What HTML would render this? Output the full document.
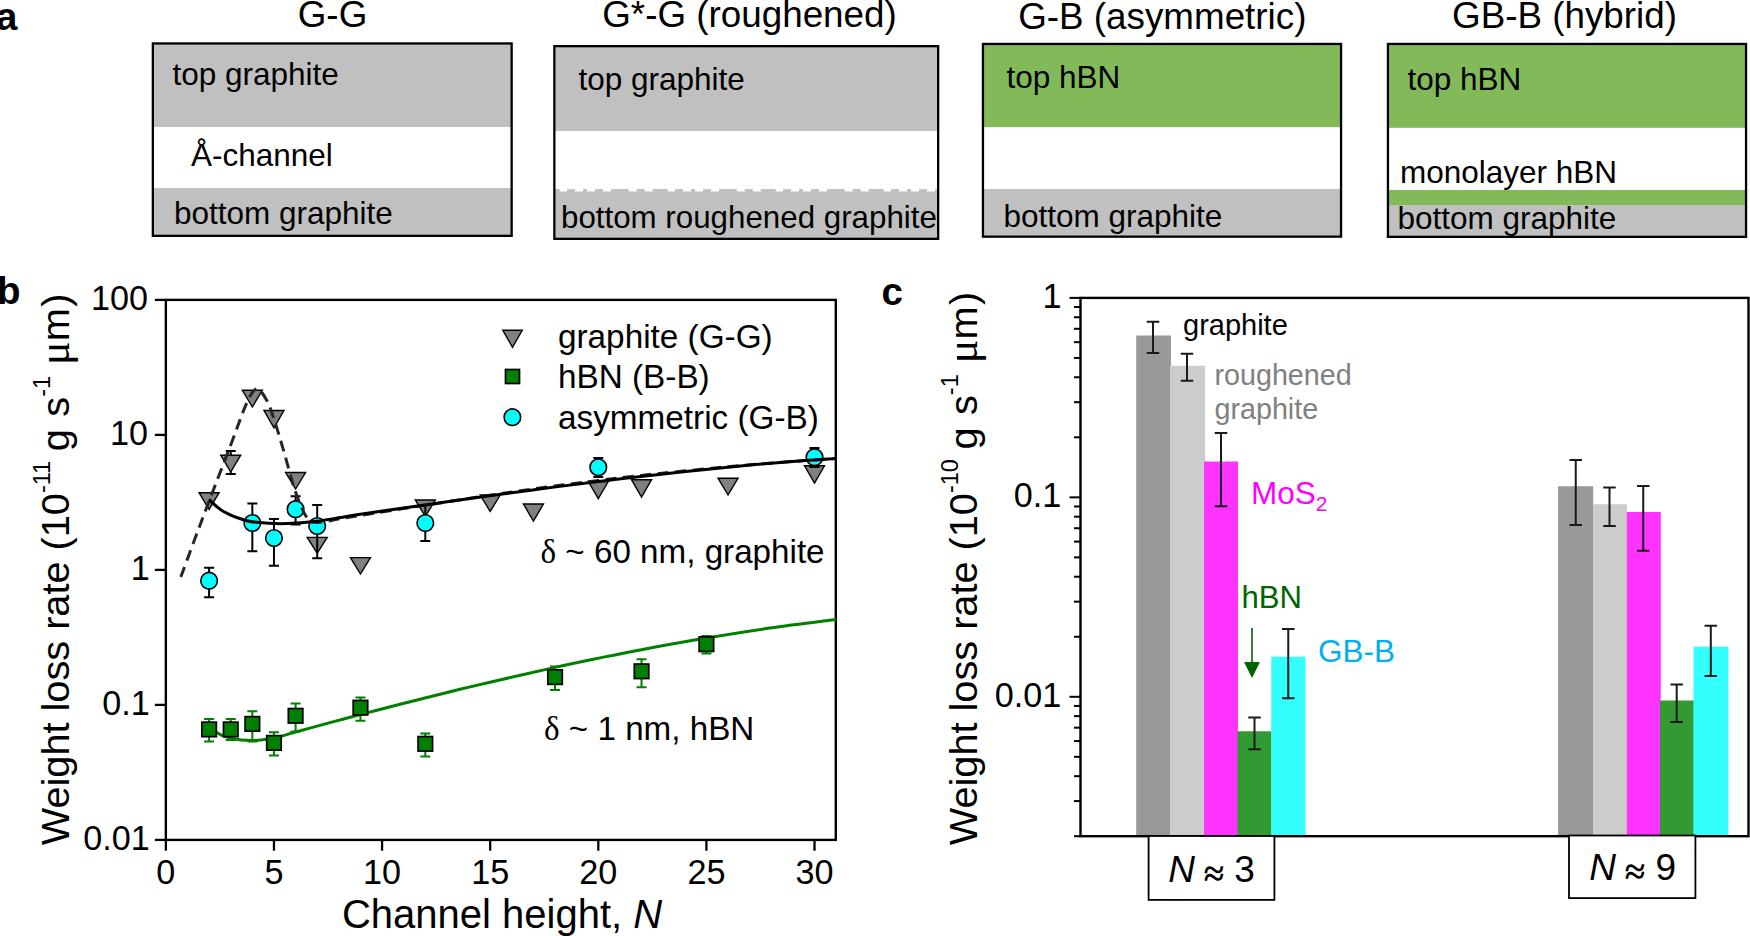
<!DOCTYPE html>
<html lang="en">
<head>
<meta charset="utf-8">
<title>Weight loss rate vs channel height</title>
<style>
html,body{margin:0;padding:0;background:#fff;}
body{width:1750px;height:936px;overflow:hidden;}
svg{display:block;}
svg text{font-family:"Liberation Sans", Arial, Helvetica, sans-serif;}
</style>
</head>
<body>
<svg width="1750" height="936" viewBox="0 0 1750 936">
<rect width="1750" height="936" fill="#fff"/>
<text x="-4" y="29.7" font-size="38.5" font-weight="bold">a</text>
<rect x="152.7" y="43.5" width="359.1" height="83.5" fill="#c0c0c0"/>
<rect x="152.7" y="188" width="359.1" height="48" fill="#c0c0c0"/>
<rect x="152.85" y="43.45" width="358.8" height="192.4" fill="none" stroke="#000" stroke-width="2.3"/>
<text x="332.5" y="26.7" font-size="36.8" text-anchor="middle">G-G</text>
<text x="172.5" y="85" font-size="31.5">top graphite</text>
<text x="191" y="165.5" font-size="31.5">Å-channel</text>
<text x="174" y="223.5" font-size="31.5">bottom graphite</text>
<path d="M554.5,193V188.9H559.7V193zM567.1,193V188.9H575.1V193zM583.1,193V188.9H587.1V193zM595.1,193V188.9H603.1V193zM611.1,193V188.9H628.8V193zM636.8,193V188.9H644.8V193zM652.8,193V188.9H667.7V193zM675.1,193V188.9H683.1V193zM691.1,193V188.9H695.1V193zM703.1,193V188.9H711.1V193zM719.1,193V188.9H736.8V193zM744.8,193V188.9H752.8V193zM760.8,193V188.9H775.7V193zM783.1,193V188.9H791.1V193zM799.1,193V188.9H803.1V193zM811.1,193V188.9H819.1V193zM827.1,193V188.9H844.8V193zM852.8,193V188.9H860.8V193zM868.8,193V188.9H883.7V193zM891.1,193V188.9H899.1V193zM907.1,193V188.9H911.1V193zM919.1,193V188.9H927.1V193zM935.1,193V188.9H938.2V193z" fill="#c0c0c0"/>
<rect x="554.2" y="46" width="384.1" height="85" fill="#c0c0c0"/>
<rect x="554.2" y="191.5" width="384.1" height="47.5" fill="#c0c0c0"/>
<rect x="554.35" y="46.15" width="383.8" height="192.7" fill="none" stroke="#000" stroke-width="2.3"/>
<text x="749.5" y="27" font-size="36.8" text-anchor="middle">G*-G (roughened)</text>
<text x="578.5" y="89.5" font-size="31.5">top graphite</text>
<text x="561" y="228" font-size="31.3">bottom roughened graphite</text>
<rect x="982.8" y="44" width="358.4" height="83.2" fill="#82ba5a"/>
<rect x="982.8" y="189" width="358.4" height="48" fill="#c0c0c0"/>
<rect x="982.95" y="43.95" width="358.1" height="192.7" fill="none" stroke="#000" stroke-width="2.3"/>
<text x="1162.3" y="29.3" font-size="36.8" text-anchor="middle">G-B (asymmetric)</text>
<text x="1006.5" y="87.5" font-size="31.5">top hBN</text>
<text x="1003.5" y="227" font-size="31.5">bottom graphite</text>
<rect x="1387.8" y="44" width="358.4" height="83.8" fill="#82ba5a"/>
<rect x="1387.8" y="190" width="358.4" height="15" fill="#82ba5a"/>
<rect x="1387.8" y="205" width="358.4" height="32" fill="#c0c0c0"/>
<rect x="1387.95" y="43.95" width="358.1" height="192.9" fill="none" stroke="#000" stroke-width="2.3"/>
<text x="1564.5" y="27.8" font-size="36.8" text-anchor="middle">GB-B (hybrid)</text>
<text x="1407.5" y="90" font-size="31.5">top hBN</text>
<text x="1400" y="183" font-size="31.5">monolayer hBN</text>
<text x="1397.5" y="229" font-size="31.5">bottom graphite</text>
<text x="-3" y="304.4" font-size="38.5" font-weight="bold">b</text>
<rect x="165.85" y="299.9" width="669.95" height="540" fill="none" stroke="#000" stroke-width="2.4"/>
<line x1="154.85" y1="299.9" x2="165.85" y2="299.9" stroke="#000" stroke-width="2.3"/>
<text x="148" y="309.8" font-size="34.2" text-anchor="end">100</text>
<line x1="154.85" y1="434.9" x2="165.85" y2="434.9" stroke="#000" stroke-width="2.3"/>
<text x="148" y="444.8" font-size="34.2" text-anchor="end">10</text>
<line x1="154.85" y1="569.9" x2="165.85" y2="569.9" stroke="#000" stroke-width="2.3"/>
<text x="149.7" y="579.8" font-size="34.2" text-anchor="end">1</text>
<line x1="154.85" y1="704.9" x2="165.85" y2="704.9" stroke="#000" stroke-width="2.3"/>
<text x="149.7" y="714.8" font-size="34.2" text-anchor="end">0.1</text>
<line x1="154.85" y1="839.9" x2="165.85" y2="839.9" stroke="#000" stroke-width="2.3"/>
<text x="149.7" y="849.8" font-size="34.2" text-anchor="end">0.01</text>
<line x1="165.85" y1="839.9" x2="165.85" y2="850.7" stroke="#000" stroke-width="2.3"/>
<text x="165.85" y="883.9" font-size="34.2" text-anchor="middle">0</text>
<line x1="273.96" y1="839.9" x2="273.96" y2="850.7" stroke="#000" stroke-width="2.3"/>
<text x="273.96" y="883.9" font-size="34.2" text-anchor="middle">5</text>
<line x1="382.07" y1="839.9" x2="382.07" y2="850.7" stroke="#000" stroke-width="2.3"/>
<text x="382.07" y="883.9" font-size="34.2" text-anchor="middle">10</text>
<line x1="490.18" y1="839.9" x2="490.18" y2="850.7" stroke="#000" stroke-width="2.3"/>
<text x="490.18" y="883.9" font-size="34.2" text-anchor="middle">15</text>
<line x1="598.29" y1="839.9" x2="598.29" y2="850.7" stroke="#000" stroke-width="2.3"/>
<text x="598.29" y="883.9" font-size="34.2" text-anchor="middle">20</text>
<line x1="706.4" y1="839.9" x2="706.4" y2="850.7" stroke="#000" stroke-width="2.3"/>
<text x="706.4" y="883.9" font-size="34.2" text-anchor="middle">25</text>
<line x1="814.51" y1="839.9" x2="814.51" y2="850.7" stroke="#000" stroke-width="2.3"/>
<text x="814.51" y="883.9" font-size="34.2" text-anchor="middle">30</text>
<text x="502" y="927.5" font-size="40" text-anchor="middle">Channel height, <tspan font-style="italic">N</tspan></text>
<text transform="translate(69,845.3) rotate(-90)" font-size="39.7">Weight loss rate (10<tspan font-size="23.5" dy="-19">-11</tspan><tspan dy="19" dx="-1.5"> g</tspan><tspan dx="1.5"> s</tspan><tspan font-size="23.5" dy="-19">-1</tspan><tspan dy="19"> </tspan><tspan font-family='"Liberation Serif", "DejaVu Serif", serif' font-size="44">μ</tspan>m<tspan dx="1.5">)</tspan></text>
<path d="M230.72,451V474M225.72,451h10M225.72,474h10" fill="none" stroke="#000" stroke-width="2"/>
<path d="M199.09,492.7h20L209.09,509.5z" fill="#808080" stroke="#000" stroke-width="1.4" stroke-linejoin="miter"/>
<path d="M220.72,455.2h20L230.72,472z" fill="#808080" stroke="#000" stroke-width="1.4" stroke-linejoin="miter"/>
<path d="M242.34,390.3h20L252.34,407z" fill="#808080" stroke="#000" stroke-width="1.4" stroke-linejoin="miter"/>
<path d="M263.96,410.5h20L273.96,427.8z" fill="#808080" stroke="#000" stroke-width="1.4" stroke-linejoin="miter"/>
<path d="M285.58,472.5h20L295.58,489z" fill="#808080" stroke="#000" stroke-width="1.4" stroke-linejoin="miter"/>
<path d="M307.2,537.4h20L317.2,553.3z" fill="#808080" stroke="#000" stroke-width="1.4" stroke-linejoin="miter"/>
<path d="M350.45,557.6h20L360.45,574z" fill="#808080" stroke="#000" stroke-width="1.4" stroke-linejoin="miter"/>
<path d="M415.31,500h20L425.31,516.5z" fill="#808080" stroke="#000" stroke-width="1.4" stroke-linejoin="miter"/>
<path d="M480.18,495h20L490.18,511.5z" fill="#808080" stroke="#000" stroke-width="1.4" stroke-linejoin="miter"/>
<path d="M523.42,504h20L533.42,521z" fill="#808080" stroke="#000" stroke-width="1.4" stroke-linejoin="miter"/>
<path d="M588.29,481.5h20L598.29,498.5z" fill="#808080" stroke="#000" stroke-width="1.4" stroke-linejoin="miter"/>
<path d="M631.53,479.7h20L641.53,497z" fill="#808080" stroke="#000" stroke-width="1.4" stroke-linejoin="miter"/>
<path d="M718.02,478.2h20L728.02,495z" fill="#808080" stroke="#000" stroke-width="1.4" stroke-linejoin="miter"/>
<path d="M804.51,465.8h20L814.51,483z" fill="#808080" stroke="#000" stroke-width="1.4" stroke-linejoin="miter"/>
<path d="M209.09,567.7V597.2M204.09,567.7h10M204.09,597.2h10" fill="none" stroke="#000" stroke-width="2"/>
<path d="M252.34,503.4V551.3M247.34,503.4h10M247.34,551.3h10" fill="none" stroke="#000" stroke-width="2"/>
<path d="M273.96,519V565.7M268.96,519h10M268.96,565.7h10" fill="none" stroke="#000" stroke-width="2"/>
<path d="M295.58,496.2V524.5M290.58,496.2h10M290.58,524.5h10" fill="none" stroke="#000" stroke-width="2"/>
<path d="M317.2,505V558.2M312.2,505h10M312.2,558.2h10" fill="none" stroke="#000" stroke-width="2"/>
<path d="M425.31,505V541M420.31,505h10M420.31,541h10" fill="none" stroke="#000" stroke-width="2"/>
<path d="M598.29,458V477M593.29,458h10M593.29,477h10" fill="none" stroke="#000" stroke-width="2"/>
<path d="M814.51,448V467M809.51,448h10M809.51,467h10" fill="none" stroke="#000" stroke-width="2"/>
<circle cx="209.09" cy="580.7" r="8.3" fill="#00ffff" stroke="#000" stroke-width="1.6"/>
<circle cx="252.34" cy="523" r="8.3" fill="#00ffff" stroke="#000" stroke-width="1.6"/>
<circle cx="273.96" cy="538" r="8.3" fill="#00ffff" stroke="#000" stroke-width="1.6"/>
<circle cx="295.58" cy="509.2" r="8.3" fill="#00ffff" stroke="#000" stroke-width="1.6"/>
<circle cx="317.2" cy="526" r="8.3" fill="#00ffff" stroke="#000" stroke-width="1.6"/>
<circle cx="425.31" cy="523" r="8.3" fill="#00ffff" stroke="#000" stroke-width="1.6"/>
<circle cx="598.29" cy="467.3" r="8.3" fill="#00ffff" stroke="#000" stroke-width="1.6"/>
<circle cx="814.51" cy="457.2" r="8.3" fill="#00ffff" stroke="#000" stroke-width="1.6"/>
<path d="M209,724 C209.97,725.23 211.3,729.07 214.8,731.4 C218.3,733.73 223.75,736.47 230,738 C236.25,739.53 245.02,740.6 252.3,740.6 C259.58,740.6 266.48,739.43 273.7,738 C280.92,736.57 286.22,734.57 295.6,732 C304.98,729.43 318.93,725.58 330,722.6 C341.07,719.62 350.33,717.15 362,714.1 C373.67,711.05 389.5,706.98 400,704.3 C410.5,701.62 415,700.5 425,698 C435,695.5 449.17,691.93 460,689.3 C470.83,686.67 474.17,685.85 490,682.2 C505.83,678.55 536.67,671.45 555,667.4 C573.33,663.35 585.6,660.85 600,657.9 C614.4,654.95 623.68,653 641.4,649.7 C659.12,646.4 684.87,641.7 706.3,638.1 C727.73,634.5 748.38,631.2 770,628.1 C791.62,625 825,620.93 836,619.5" fill="none" stroke="#008000" stroke-width="3"/>
<path d="M209.09,719V741.5M204.09,719h10M204.09,741.5h10" fill="none" stroke="#008000" stroke-width="2"/>
<path d="M230.72,719V740M225.72,719h10M225.72,740h10" fill="none" stroke="#008000" stroke-width="2"/>
<path d="M252.34,711.2V741.5M247.34,711.2h10M247.34,741.5h10" fill="none" stroke="#008000" stroke-width="2"/>
<path d="M273.96,732.2V755.6M268.96,732.2h10M268.96,755.6h10" fill="none" stroke="#008000" stroke-width="2"/>
<path d="M295.58,703.4V731.4M290.58,703.4h10M290.58,731.4h10" fill="none" stroke="#008000" stroke-width="2"/>
<path d="M360.45,697.6V720.7M355.45,697.6h10M355.45,720.7h10" fill="none" stroke="#008000" stroke-width="2"/>
<path d="M425.31,733.4V756.5M420.31,733.4h10M420.31,756.5h10" fill="none" stroke="#008000" stroke-width="2"/>
<path d="M555.05,666.4V690M550.05,666.4h10M550.05,690h10" fill="none" stroke="#008000" stroke-width="2"/>
<path d="M641.53,659.2V687.2M636.53,659.2h10M636.53,687.2h10" fill="none" stroke="#008000" stroke-width="2"/>
<path d="M706.4,636V653.4M701.4,636h10M701.4,653.4h10" fill="none" stroke="#008000" stroke-width="2"/>
<rect x="201.84" y="722.15" width="14.5" height="14.5" fill="#008000" stroke="#000" stroke-width="1.7"/>
<rect x="223.47" y="722.15" width="14.5" height="14.5" fill="#008000" stroke="#000" stroke-width="1.7"/>
<rect x="245.09" y="716.65" width="14.5" height="14.5" fill="#008000" stroke="#000" stroke-width="1.7"/>
<rect x="266.71" y="735.65" width="14.5" height="14.5" fill="#008000" stroke="#000" stroke-width="1.7"/>
<rect x="288.33" y="708.55" width="14.5" height="14.5" fill="#008000" stroke="#000" stroke-width="1.7"/>
<rect x="353.2" y="700.45" width="14.5" height="14.5" fill="#008000" stroke="#000" stroke-width="1.7"/>
<rect x="418.06" y="736.55" width="14.5" height="14.5" fill="#008000" stroke="#000" stroke-width="1.7"/>
<rect x="547.8" y="669.85" width="14.5" height="14.5" fill="#008000" stroke="#000" stroke-width="1.7"/>
<rect x="634.28" y="664.05" width="14.5" height="14.5" fill="#008000" stroke="#000" stroke-width="1.7"/>
<rect x="699.15" y="636.95" width="14.5" height="14.5" fill="#008000" stroke="#000" stroke-width="1.7"/>
<path d="M180.8,577 C183.17,570.58 190.3,551.1 195,538.5 C199.7,525.9 203.15,516.72 209,501.4 C214.85,486.08 223.83,462.95 230.1,446.6 C236.37,430.25 242.17,412.92 246.6,403.3 C251.03,393.68 253.33,389.38 256.7,388.9 C260.07,388.42 263.92,395.37 266.8,400.4 C269.68,405.43 271.12,410.45 274,419.1 C276.88,427.75 280.55,440.27 284.1,452.3 C287.65,464.33 291.55,480.48 295.3,491.3 C299.05,502.12 303.03,512.02 306.6,517.2 C310.17,522.38 311.13,522.13 316.7,522.4 C322.27,522.67 332.45,520.02 340,518.8 C347.55,517.58 347.85,517.35 362,515.1 C376.15,512.85 403.6,508.62 424.9,505.3 C446.2,501.98 469.78,498.2 489.8,495.2 C509.82,492.2 526.88,489.77 545,487.3 C563.12,484.83 582.5,482.38 598.5,480.4 C614.5,478.42 619.42,477.68 641,475.4 C662.58,473.12 704.83,468.87 728,466.7 C751.17,464.53 762,463.78 780,462.4 C798,461.02 826.67,459.07 836,458.4" fill="none" stroke="#262626" stroke-width="3" stroke-dasharray="11 6.5"/>
<path d="M209,499.4 C211.42,501.42 217.23,507.95 223.5,511.5 C229.77,515.05 238.92,518.73 246.6,520.7 C254.28,522.67 262.87,522.82 269.6,523.3 C276.33,523.78 279.15,523.95 287,523.6 C294.85,523.25 307.87,522.2 316.7,521.2 C325.53,520.2 332.45,518.82 340,517.6 C347.55,516.38 347.85,516.02 362,513.9 C376.15,511.78 403.6,507.92 424.9,504.9 C446.2,501.88 469.78,498.57 489.8,495.8 C509.82,493.03 526.88,490.68 545,488.3 C563.12,485.92 582.5,483.48 598.5,481.5 C614.5,479.52 619.42,478.78 641,476.4 C662.58,474.02 704.83,469.52 728,467.2 C751.17,464.88 762,463.97 780,462.5 C798,461.03 826.67,459.08 836,458.4" fill="none" stroke="#000" stroke-width="3"/>
<path d="M502.75,330.3h19.5L512.5,347.3z" fill="#808080" stroke="#000" stroke-width="1.4" stroke-linejoin="miter"/>
<rect x="505.5" y="369.5" width="14" height="14" fill="#008000" stroke="#000" stroke-width="1.7"/>
<circle cx="512.4" cy="417.2" r="8.3" fill="#00ffff" stroke="#000" stroke-width="1.6"/>
<text x="558" y="348" font-size="33.3">graphite (G-G)</text>
<text x="558" y="388" font-size="33.3">hBN (B-B)</text>
<text x="558" y="428.5" font-size="33.3">asymmetric (G-B)</text>
<text x="540.5" y="563" font-size="33.2"><tspan font-family='"Liberation Serif", "DejaVu Serif", serif'>δ</tspan> ~ 60 nm, graphite</text>
<text x="544" y="740" font-size="33.2"><tspan font-family='"Liberation Serif", "DejaVu Serif", serif'>δ</tspan> ~ 1 nm, hBN</text>
<text x="881.5" y="305.3" font-size="38.5" font-weight="bold">c</text>
<text transform="translate(977,845.3) rotate(-90)" font-size="39.7">Weight loss rate (10<tspan font-size="23.5" dy="-19">-10</tspan><tspan dy="19" dx="-1.5"> g</tspan><tspan dx="1.5"> s</tspan><tspan font-size="23.5" dy="-19">-1</tspan><tspan dy="19"> </tspan><tspan font-family='"Liberation Serif", "DejaVu Serif", serif' font-size="44">μ</tspan>m<tspan dx="1.5">)</tspan></text>
<rect x="1136.2" y="335.5" width="34.8" height="500.7" fill="#999999"/>
<rect x="1170" y="365.75" width="35" height="470.45" fill="#cccccc"/>
<rect x="1204" y="461.5" width="34" height="374.7" fill="#ff33ff"/>
<rect x="1237.5" y="731.25" width="34" height="104.95" fill="#339933"/>
<rect x="1271.25" y="656.75" width="34.25" height="179.45" fill="#33ffff"/>
<rect x="1558" y="486.25" width="35.2" height="349.95" fill="#999999"/>
<rect x="1593" y="504.25" width="34" height="331.95" fill="#cccccc"/>
<rect x="1626.75" y="512" width="34" height="324.2" fill="#ff33ff"/>
<rect x="1660" y="700.5" width="33.8" height="135.7" fill="#339933"/>
<rect x="1693.5" y="646.7" width="34.9" height="189.5" fill="#33ffff"/>
<path d="M1153,321.75V353M1146.75,321.75h12.5M1146.75,353h12.5" fill="none" stroke="#1a1a1a" stroke-width="2"/>
<path d="M1187,353.75V380.75M1180.75,353.75h12.5M1180.75,380.75h12.5" fill="none" stroke="#1a1a1a" stroke-width="2"/>
<path d="M1221,433V506.25M1214.75,433h12.5M1214.75,506.25h12.5" fill="none" stroke="#1a1a1a" stroke-width="2"/>
<path d="M1254.5,717.5V749.25M1248.25,717.5h12.5M1248.25,749.25h12.5" fill="none" stroke="#1a1a1a" stroke-width="2"/>
<path d="M1288.25,629V698.25M1282,629h12.5M1282,698.25h12.5" fill="none" stroke="#1a1a1a" stroke-width="2"/>
<path d="M1575.75,460V525M1569.5,460h12.5M1569.5,525h12.5" fill="none" stroke="#1a1a1a" stroke-width="2"/>
<path d="M1609.5,487.5V526M1603.25,487.5h12.5M1603.25,526h12.5" fill="none" stroke="#1a1a1a" stroke-width="2"/>
<path d="M1643.25,486V550.75M1637,486h12.5M1637,550.75h12.5" fill="none" stroke="#1a1a1a" stroke-width="2"/>
<path d="M1676.7,684.4V722M1670.45,684.4h12.5M1670.45,722h12.5" fill="none" stroke="#1a1a1a" stroke-width="2"/>
<path d="M1710.8,625.8V676.1M1704.55,625.8h12.5M1704.55,676.1h12.5" fill="none" stroke="#1a1a1a" stroke-width="2"/>
<rect x="1080.5" y="297.9" width="668" height="538.3" fill="none" stroke="#000" stroke-width="2.4"/>
<line x1="1069.5" y1="297.9" x2="1080.5" y2="297.9" stroke="#000" stroke-width="2"/>
<text x="1061.4" y="307.8" font-size="34.2" text-anchor="end">1</text>
<line x1="1069.5" y1="497.35" x2="1080.5" y2="497.35" stroke="#000" stroke-width="2"/>
<text x="1061.4" y="507.25" font-size="34.2" text-anchor="end">0.1</text>
<line x1="1069.5" y1="696.8" x2="1080.5" y2="696.8" stroke="#000" stroke-width="2"/>
<text x="1061.4" y="706.7" font-size="34.2" text-anchor="end">0.01</text>
<line x1="1074.0" y1="437.31" x2="1080.5" y2="437.31" stroke="#000" stroke-width="2"/>
<line x1="1074.0" y1="402.19" x2="1080.5" y2="402.19" stroke="#000" stroke-width="2"/>
<line x1="1074.0" y1="377.27" x2="1080.5" y2="377.27" stroke="#000" stroke-width="2"/>
<line x1="1074.0" y1="357.94" x2="1080.5" y2="357.94" stroke="#000" stroke-width="2"/>
<line x1="1074.0" y1="342.15" x2="1080.5" y2="342.15" stroke="#000" stroke-width="2"/>
<line x1="1074.0" y1="328.8" x2="1080.5" y2="328.8" stroke="#000" stroke-width="2"/>
<line x1="1074.0" y1="317.23" x2="1080.5" y2="317.23" stroke="#000" stroke-width="2"/>
<line x1="1074.0" y1="307.03" x2="1080.5" y2="307.03" stroke="#000" stroke-width="2"/>
<line x1="1074.0" y1="636.76" x2="1080.5" y2="636.76" stroke="#000" stroke-width="2"/>
<line x1="1074.0" y1="601.64" x2="1080.5" y2="601.64" stroke="#000" stroke-width="2"/>
<line x1="1074.0" y1="576.72" x2="1080.5" y2="576.72" stroke="#000" stroke-width="2"/>
<line x1="1074.0" y1="557.39" x2="1080.5" y2="557.39" stroke="#000" stroke-width="2"/>
<line x1="1074.0" y1="541.6" x2="1080.5" y2="541.6" stroke="#000" stroke-width="2"/>
<line x1="1074.0" y1="528.25" x2="1080.5" y2="528.25" stroke="#000" stroke-width="2"/>
<line x1="1074.0" y1="516.68" x2="1080.5" y2="516.68" stroke="#000" stroke-width="2"/>
<line x1="1074.0" y1="506.48" x2="1080.5" y2="506.48" stroke="#000" stroke-width="2"/>
<line x1="1074.0" y1="836.21" x2="1080.5" y2="836.21" stroke="#000" stroke-width="2"/>
<line x1="1074.0" y1="801.09" x2="1080.5" y2="801.09" stroke="#000" stroke-width="2"/>
<line x1="1074.0" y1="776.17" x2="1080.5" y2="776.17" stroke="#000" stroke-width="2"/>
<line x1="1074.0" y1="756.84" x2="1080.5" y2="756.84" stroke="#000" stroke-width="2"/>
<line x1="1074.0" y1="741.05" x2="1080.5" y2="741.05" stroke="#000" stroke-width="2"/>
<line x1="1074.0" y1="727.7" x2="1080.5" y2="727.7" stroke="#000" stroke-width="2"/>
<line x1="1074.0" y1="716.13" x2="1080.5" y2="716.13" stroke="#000" stroke-width="2"/>
<line x1="1074.0" y1="705.93" x2="1080.5" y2="705.93" stroke="#000" stroke-width="2"/>
<text x="1183" y="335" font-size="29">graphite</text>
<text x="1214.5" y="385.2" font-size="28.7" fill="#808080">roughened</text>
<text x="1214.5" y="419.3" font-size="28.7" fill="#808080">graphite</text>
<text x="1251" y="503.75" font-size="31.5" fill="#ff00ff">MoS<tspan font-size="21" dy="7">2</tspan></text>
<text x="1241.5" y="607.5" font-size="31.1" fill="#006400">hBN</text>
<text x="1318" y="661.75" font-size="31.5" fill="#00b0f0">GB-B</text>
<path d="M1252,628V664" stroke="#006400" stroke-width="1.6" fill="none"/>
<path d="M1244,662h16L1252,678z" fill="#006400"/>
<rect x="1148.6" y="836" width="125.8" height="63.9" fill="#fff" stroke="#000" stroke-width="1.8"/>
<text x="1168.2" y="881.6" font-size="37"><tspan font-style="italic">N</tspan> <tspan font-family='"Liberation Serif", "DejaVu Serif", serif' font-weight="bold" font-size="37" dx="-1.5" dy="4.3">≈</tspan><tspan dx="0" dy="-4.3"> 3</tspan></text>
<rect x="1569" y="835.5" width="126.4" height="62.6" fill="#fff" stroke="#000" stroke-width="1.8"/>
<text x="1589.3" y="880.1" font-size="37"><tspan font-style="italic">N</tspan> <tspan font-family='"Liberation Serif", "DejaVu Serif", serif' font-weight="bold" font-size="37" dx="-1.5" dy="4.3">≈</tspan><tspan dx="0" dy="-4.3"> 9</tspan></text>
</svg>
</body>
</html>
